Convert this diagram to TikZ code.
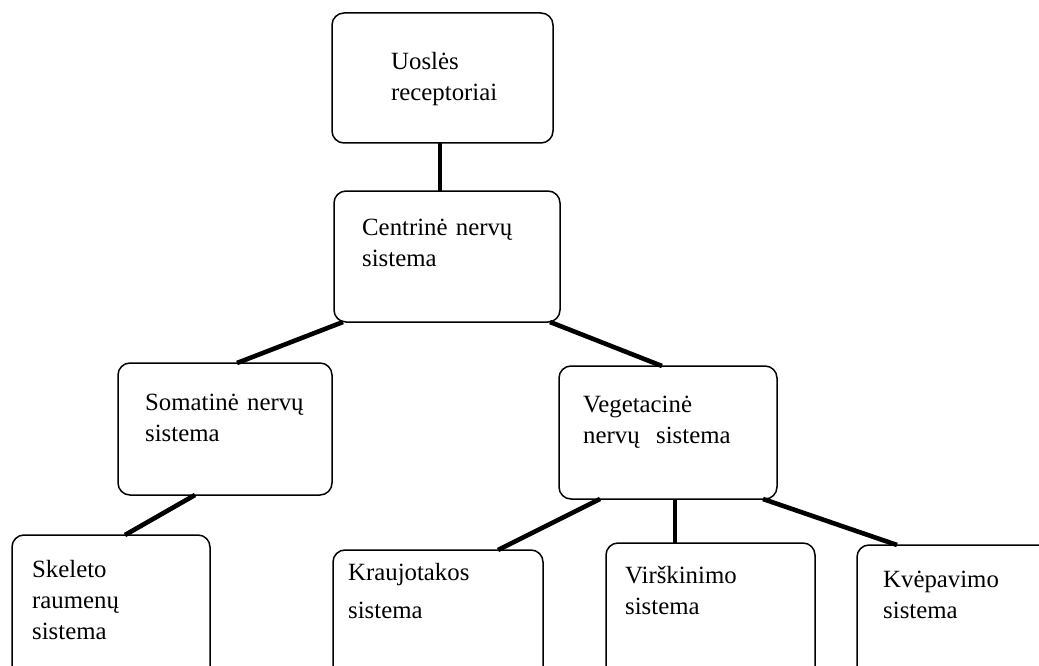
\documentclass[tikz,border=0pt]{standalone}
\usepackage{fontspec}
\setmainfont{Liberation Serif}
\begin{document}
\begin{tikzpicture}[x=1pt,y=-1pt,
  box/.style={draw=black, line width=1.5pt, rounded corners=12pt, anchor=north west, outer sep=0pt, inner sep=0pt},
  lbl/.style={anchor=base west, inner sep=0pt, align=left, text width=230pt, font=\fontsize{24.8}{31}\selectfont},
  conn/.style={line width=4.6pt, draw=black}]
\useasboundingbox (0,0) rectangle (1039,666);
\clip (0,0) rectangle (1039,666);
% boxes
\node[box, minimum width=221pt, minimum height=130pt] (uos) at (332,13) {};
\node[box, minimum width=226pt, minimum height=131pt] (cns) at (334,191) {};
\node[box, minimum width=214pt, minimum height=132pt] (som) at (118,363) {};
\node[box, minimum width=218pt, minimum height=133pt] (veg) at (559,366) {};
\node[box, minimum width=198pt, minimum height=145pt] (skel) at (12,535) {};
\node[box, minimum width=210pt, minimum height=140pt] (krau) at (333,550) {};
\node[box, minimum width=209pt, minimum height=140pt] (vir) at (606,543) {};
\node[box, minimum width=210pt, minimum height=140pt] (kve) at (857,545) {};
% labels
\node[lbl] (tuos) at (391,70) {Uoslės\\receptoriai};
\node[lbl] (tcns) at (362,235) {Centrinė nervų\\sistema};
\node[lbl] (tsom) at (145,410) {Somatinė nervų\\sistema};
\node[lbl] (tveg) at (583,412) {Vegetacinė\\nervų\ \ sistema};
\node[lbl] (tskel) at (32,577) {Skeleto\\raumenų\\sistema};
\node[lbl, font=\fontsize{24.8}{38}\selectfont] (tkrau) at (348,580) {Kraujotakos\\sistema};
\node[lbl] (tvir) at (625,583) {Virškinimo\\sistema};
\node[lbl] (tkve) at (883,587) {Kvėpavimo\\sistema};
% connectors
\draw[conn] ([xshift=-2.5pt]uos.south) -- ([xshift=-2.5pt]uos.south |- cns.north);
\draw[conn] ([xshift=9pt]cns.south west) -- ([xshift=12pt]som.north);
\draw[conn] ([xshift=-10pt]cns.south east) -- ([xshift=-6pt]veg.north);
\draw[conn] ([xshift=-30pt]som.south) -- ([xshift=14pt]skel.north);
\draw[conn] ([xshift=41pt]veg.south west) -- ([xshift=60pt]krau.north);
\draw[conn] ([xshift=7pt]veg.south) -- ([xshift=7pt]veg.south |- vir.north);
\draw[conn] ([xshift=-14pt]veg.south east) -- ([xshift=40pt]kve.north west);
\end{tikzpicture}
\end{document}
